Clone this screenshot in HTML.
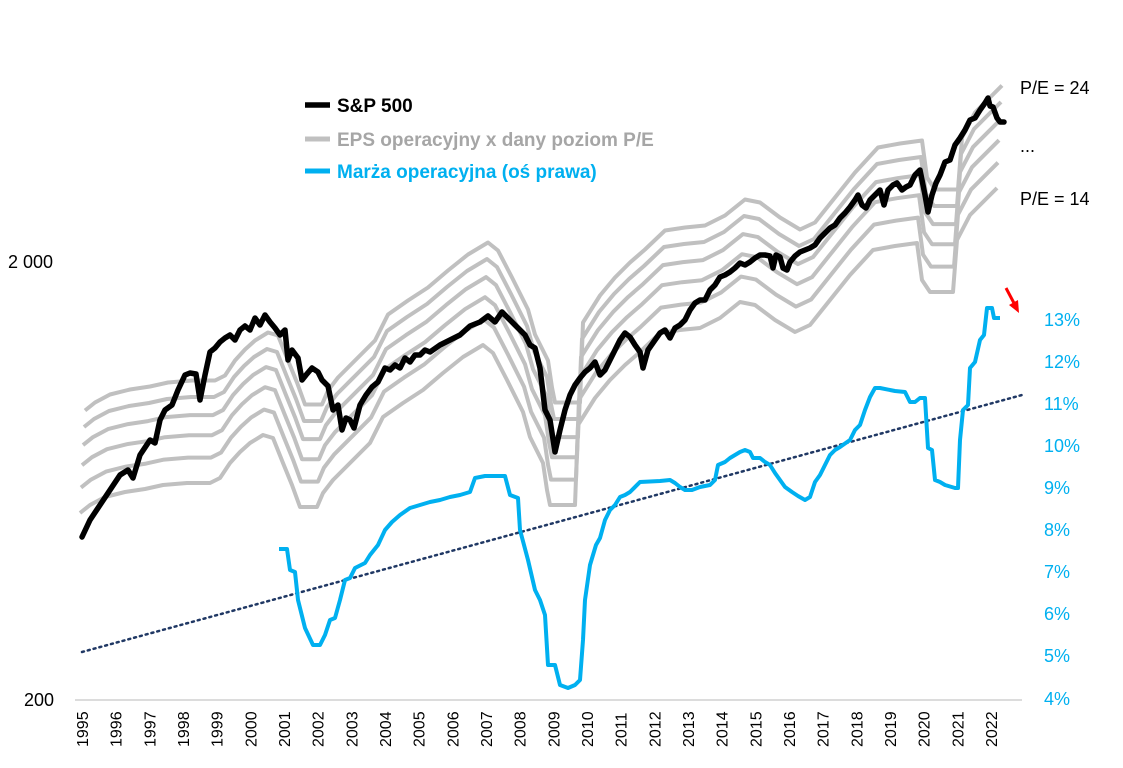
<!DOCTYPE html>
<html><head><meta charset="utf-8"><style>
body{margin:0;background:#fff;}
svg{display:block;font-family:"Liberation Sans",sans-serif;}
</style></head><body>
<svg width="1123" height="768" viewBox="0 0 1123 768" xmlns="http://www.w3.org/2000/svg">
<defs>
<polyline id="pe" fill="none" stroke="#c0c0c0" stroke-width="4" stroke-linejoin="round" points="80,513 90,505 105,497 125,492 145,489 163,485 187,483 210,483 220,478 230,463 240,452 250,443 263,435 273,438 283,463 292,485 300,507 317,507 323,493 333,480 343,470 355,458 370,443 383,417 403,403 423,390 443,373 463,357 483,345 493,353 507,380 517,400 523,412 530,437 543,463 547,490 550,505 575,505 578,425 595,398 610,380 625,365 640,352 660,333 680,330 700,328 720,318 740,302 755,305 775,320 795,332 810,325 830,300 850,275 873,250 895,246 917,243 922,280 930,292 953,292 957,240 970,215 985,200 997,188"/>
</defs>
<line x1="75" y1="700" x2="1022" y2="700" stroke="#d0d0d0" stroke-width="1.5"/>
<use href="#pe"/>
<use href="#pe" transform="translate(1,-25.4)"/>
<use href="#pe" transform="translate(2,-47.8)"/>
<use href="#pe" transform="translate(3,-67.9)"/>
<use href="#pe" transform="translate(4,-86)"/>
<use href="#pe" transform="translate(5,-102.5)"/>
<line x1="82" y1="652" x2="1022" y2="395" stroke="#203864" stroke-width="2.5" stroke-dasharray="2,4" stroke-linecap="round"/>
<polyline fill="none" stroke="#00b0f0" stroke-width="4" stroke-linejoin="round" points="279,549 287,549 290,570 295,572 298,600 305,628 313,645 320,645 325,635 330,620 335,618 340,600 345,580 350,578 355,568 365,563 370,555 378,545 385,530 392,522 400,515 410,508 420,505 430,502 440,500 450,497 460,495 470,492 475,478 485,476 495,476 505,476 510,495 518,498 520,530 528,560 535,590 540,600 545,615 548,665 555,665 560,685 568,688 575,685 580,680 583,640 585,600 590,565 596,545 600,538 605,520 610,510 615,505 620,497 625,495 630,492 640,482 660,481 670,480 675,483 680,487 685,490 692,490 700,487 710,485 715,480 718,465 725,462 730,458 735,455 740,452 745,450 750,452 753,458 760,458 765,462 770,465 775,473 780,480 785,487 792,492 798,496 805,500 810,497 815,482 820,475 825,465 830,455 835,450 840,447 850,440 855,430 860,425 865,410 870,397 875,388 880,388 895,391 905,392 910,402 915,402 920,398 925,398 928,448 932,450 935,480 940,482 945,485 955,488 958,488 960,440 963,410 968,405 970,368 975,362 980,340 984,335 987,308 992,308 994,318 1000,318"/>
<polyline fill="none" stroke="#000" stroke-width="5.5" stroke-linejoin="round" stroke-linecap="round" points="82,537 90,520 100,505 110,490 120,475 128,470 133,478 140,455 150,440 155,443 160,420 165,410 172,405 178,390 185,375 190,373 196,374 200,400 205,375 210,352 215,348 220,342 225,338 230,335 235,340 240,330 245,326 250,330 255,318 260,325 265,315 270,322 275,328 280,335 285,330 288,360 292,350 298,358 302,380 306,375 312,368 318,372 322,380 328,386 333,410 338,405 342,430 346,418 350,420 354,428 360,405 366,395 372,387 378,382 385,368 390,370 395,365 400,368 405,358 410,362 415,355 420,355 425,350 430,352 440,345 450,340 460,335 470,326 480,322 488,316 495,322 502,312 508,318 515,325 520,330 525,335 530,345 535,348 540,368 545,410 550,420 555,452 560,430 565,410 570,395 575,385 580,378 585,372 590,368 595,362 600,375 605,370 610,360 615,350 620,340 625,333 630,337 635,345 640,352 643,368 648,350 655,340 660,333 665,330 670,338 675,328 680,325 685,320 690,310 695,303 700,300 705,300 710,290 715,285 720,277 725,275 730,272 735,268 740,263 745,265 750,262 755,258 760,255 765,255 770,256 773,268 776,255 780,257 783,268 787,270 790,262 795,256 800,252 805,250 810,248 815,245 820,238 825,233 830,228 835,225 840,218 845,213 850,207 855,200 858,195 862,205 866,208 870,200 875,195 880,190 884,205 888,190 893,185 897,183 902,190 906,187 910,185 915,175 920,170 925,195 928,212 932,195 936,183 940,175 945,162 950,160 955,145 960,138 965,130 970,120 975,118 980,110 985,103 988,98 990,106 993,107 997,118 1000,122 1004,122"/>
<line x1="1006" y1="288" x2="1015" y2="305" stroke="#ff0000" stroke-width="3"/>
<polygon points="1019,313 1009,305 1018,300" fill="#ff0000"/>
<g font-size="18" fill="#000">
<text x="8" y="268">2 000</text>
<text x="24" y="706">200</text>
<text x="1020" y="94">P/E = 24</text>
<text x="1020" y="152">...</text>
<text x="1020" y="205">P/E = 14</text>
</g>
<g font-size="18" fill="#00b0f0">
<text x="1044" y="326">13%</text><text x="1044" y="368">12%</text><text x="1044" y="410">11%</text><text x="1044" y="452">10%</text><text x="1044" y="494">9%</text><text x="1044" y="536">8%</text><text x="1044" y="578">7%</text><text x="1044" y="620">6%</text><text x="1044" y="662">5%</text><text x="1044" y="705">4%</text>
</g>
<g font-size="16" fill="#000">
<text transform="translate(88,747) rotate(-90)">1995</text>
<text transform="translate(121.7,747) rotate(-90)">1996</text>
<text transform="translate(155.3,747) rotate(-90)">1997</text>
<text transform="translate(189,747) rotate(-90)">1998</text>
<text transform="translate(222.7,747) rotate(-90)">1999</text>
<text transform="translate(256.4,747) rotate(-90)">2000</text>
<text transform="translate(290,747) rotate(-90)">2001</text>
<text transform="translate(323.7,747) rotate(-90)">2002</text>
<text transform="translate(357.4,747) rotate(-90)">2003</text>
<text transform="translate(391,747) rotate(-90)">2004</text>
<text transform="translate(424.7,747) rotate(-90)">2005</text>
<text transform="translate(458.4,747) rotate(-90)">2006</text>
<text transform="translate(492,747) rotate(-90)">2007</text>
<text transform="translate(525.7,747) rotate(-90)">2008</text>
<text transform="translate(559.4,747) rotate(-90)">2009</text>
<text transform="translate(593,747) rotate(-90)">2010</text>
<text transform="translate(626.7,747) rotate(-90)">2011</text>
<text transform="translate(660.4,747) rotate(-90)">2012</text>
<text transform="translate(694,747) rotate(-90)">2013</text>
<text transform="translate(727.7,747) rotate(-90)">2014</text>
<text transform="translate(761.4,747) rotate(-90)">2015</text>
<text transform="translate(795,747) rotate(-90)">2016</text>
<text transform="translate(828.7,747) rotate(-90)">2017</text>
<text transform="translate(862.4,747) rotate(-90)">2018</text>
<text transform="translate(896,747) rotate(-90)">2019</text>
<text transform="translate(929.7,747) rotate(-90)">2020</text>
<text transform="translate(963.4,747) rotate(-90)">2021</text>
<text transform="translate(997,747) rotate(-90)">2022</text>
</g>
<line x1="305" y1="105" x2="330" y2="105" stroke="#000" stroke-width="5.5"/>
<line x1="305" y1="139" x2="330" y2="139" stroke="#c0c0c0" stroke-width="5"/>
<line x1="305" y1="171" x2="330" y2="171" stroke="#00b0f0" stroke-width="5"/>
<g font-size="19" font-weight="bold">
<text x="337" y="112" fill="#000">S&amp;P 500</text>
<text x="337" y="146" fill="#a6a6a6">EPS operacyjny x dany poziom P/E</text>
<text x="337" y="178" fill="#00b0f0">Marża operacyjna (oś prawa)</text>
</g>
</svg>
</body></html>
